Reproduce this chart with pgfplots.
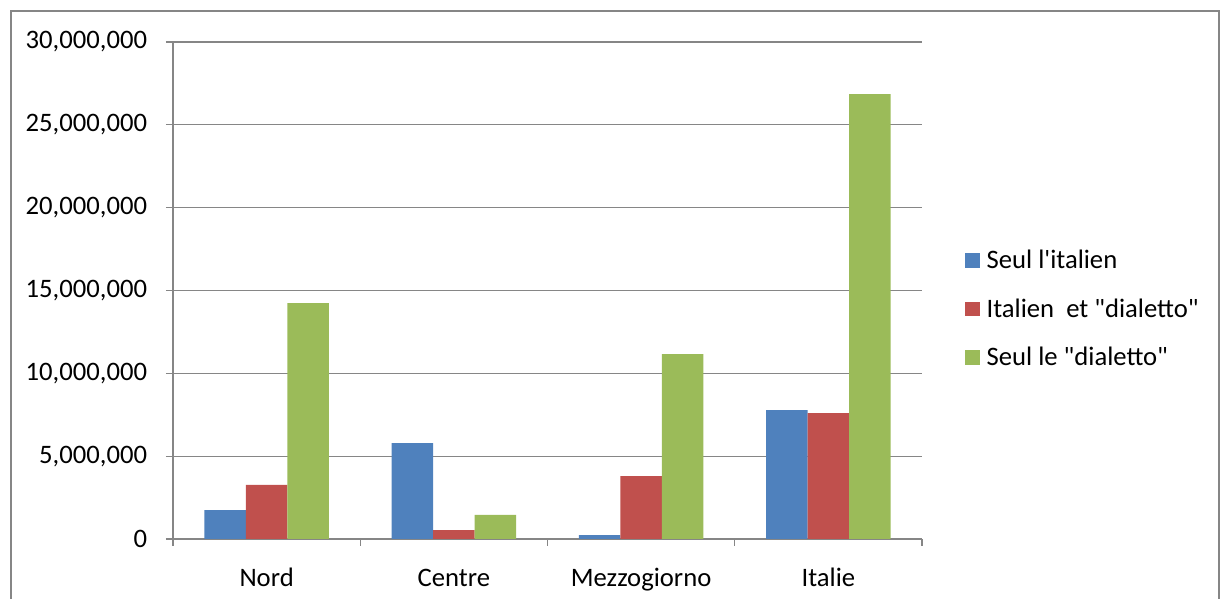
\documentclass[border=0pt]{standalone}
\usepackage{fontspec}
\setmainfont{Carlito}[Ligatures=TeXOff]
\usepackage{pgfplots}
\pgfplotsset{compat=1.18}
\definecolor{sblue}{HTML}{4F81BD}
\definecolor{sred}{HTML}{C0504D}
\definecolor{sgreen}{HTML}{9BBB59}
\definecolor{gridgray}{HTML}{868686}
\begin{document}
\begin{tikzpicture}[x=1pt,y=1pt]
% page extents (1 px = 0.75pt), plot area bottom-left at origin
\path[use as bounding box] (-129.75,-45) rectangle (786.75,404.25);
\draw[gridgray,line width=1.1pt] (-121.5,-50) rectangle (784.5,396);
\begin{axis}[
    at={(0,0)}, anchor=south west,
    scale only axis,
    width=561.75pt, height=372.75pt,
    ybar=0pt,
    bar width=31.1pt,
    xmin=-0.5, xmax=3.5,
    ymin=0, ymax=30000000,
    xtick={0,1,2,3},
    xticklabels={Nord,Centre,Mezzogiorno,Italie},
    major x tick style={draw=none},
    minor xtick={-0.5,0.5,1.5,2.5,3.5},
    minor x tick style={gridgray, line width=0.8pt},
    ytick={0,5000000,10000000,15000000,20000000,25000000,30000000},
    y tick style={gridgray, line width=0.8pt},
    tick align=outside,
    major tick length=5.25pt, minor tick length=5.25pt,
    ymajorgrids,
    grid style={gridgray, line width=0.8pt},
    axis x line*=bottom, axis y line*=left,
    axis line style={gridgray, line width=0.8pt, -},
    scaled y ticks=false,
    /pgf/number format/assume math mode=true,
    /pgf/number format/fixed,
    /pgf/number format/1000 sep={,},
    yticklabel style={font=\fontsize{20}{24}\selectfont, inner xsep=0pt, xshift=-14pt},
    xticklabel style={font=\fontsize{20}{24}\selectfont, yshift=-13pt,
        text height=14pt, text depth=4pt},
    legend style={at={(1.057,0.4628)}, anchor=west, draw=none, fill=none,
        inner sep=0pt, row sep=17pt,
        font=\fontsize{20}{24}\selectfont,
        nodes={inner xsep=5pt}},
    legend cell align=left,
    legend image code/.code={\fill[#1] (0pt,-5.6pt) rectangle (11.25pt,5.6pt);},
]
\addplot[fill=sblue, draw=none] coordinates {(0,1750000) (1,5790000) (2,240000) (3,7780000)};
\addplot[fill=sred, draw=none] coordinates {(0,3260000) (1,540000) (2,3800000) (3,7600000)};
\addplot[fill=sgreen, draw=none] coordinates {(0,14240000) (1,1450000) (2,11160000) (3,26860000)};
\legend{Seul l'italien, Italien\ \ et "dialetto", Seul le "dialetto"}
\end{axis}
\end{tikzpicture}
\end{document}
